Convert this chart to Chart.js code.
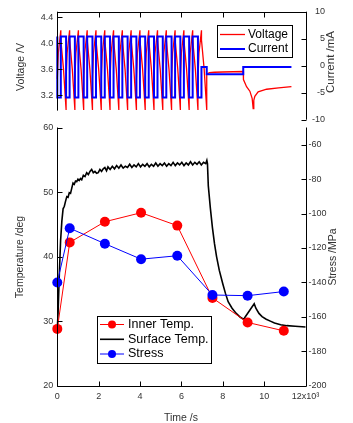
<!DOCTYPE html>
<html>
<head>
<meta charset="utf-8">
<script src="https://cdn.jsdelivr.net/npm/chart.js@4.4.1/dist/chart.umd.min.js"></script>
<style>
  html, body { margin: 0; padding: 0; background: #fff; }
  #wrap { position: relative; width: 353px; height: 423px; }
  #wrap canvas { position: absolute; left: 0; top: 0; }
</style>
</head>
<body>
<div id="wrap">
  <canvas id="cycle-chart" width="353" height="423"></canvas>
  <canvas id="temp-chart" width="353" height="423"></canvas>
</div>
<script>
// time is in 10^3 s on both panels

// ---- top panel: voltage / current cycling ----
const voltage = [
  [0.000,3.45],[0.050,3.85],[0.170,4.20],[0.171,4.05],[0.300,3.60],[0.424,2.98],
  [0.425,3.45],[0.475,3.85],[0.595,4.20],[0.596,4.05],[0.725,3.60],[0.849,2.98],
  [0.850,3.45],[0.900,3.85],[1.020,4.20],[1.021,4.05],[1.150,3.60],[1.274,2.98],
  [1.275,3.45],[1.325,3.85],[1.445,4.20],[1.446,4.05],[1.575,3.60],[1.699,2.98],
  [1.700,3.45],[1.750,3.85],[1.870,4.20],[1.871,4.05],[2.000,3.60],[2.124,2.98],
  [2.125,3.45],[2.175,3.85],[2.295,4.20],[2.296,4.05],[2.425,3.60],[2.549,2.98],
  [2.550,3.45],[2.600,3.85],[2.720,4.20],[2.721,4.05],[2.850,3.60],[2.974,2.98],
  [2.975,3.45],[3.025,3.85],[3.145,4.20],[3.146,4.05],[3.275,3.60],[3.399,2.98],
  [3.400,3.45],[3.450,3.85],[3.570,4.20],[3.571,4.05],[3.700,3.60],[3.824,2.98],
  [3.825,3.45],[3.875,3.85],[3.995,4.20],[3.996,4.05],[4.125,3.60],[4.249,2.98],
  [4.250,3.45],[4.300,3.85],[4.420,4.20],[4.421,4.05],[4.550,3.60],[4.674,2.98],
  [4.675,3.45],[4.725,3.85],[4.845,4.20],[4.846,4.05],[4.975,3.60],[5.099,2.98],
  [5.100,3.45],[5.150,3.85],[5.270,4.20],[5.271,4.05],[5.400,3.60],[5.524,2.98],
  [5.525,3.45],[5.575,3.85],[5.695,4.20],[5.696,4.05],[5.825,3.60],[5.949,2.98],
  [5.950,3.45],[6.000,3.85],[6.120,4.20],[6.121,4.05],[6.250,3.60],[6.374,2.98],
  [6.375,3.45],[6.425,3.85],[6.545,4.20],[6.546,4.05],[6.675,3.60],[6.799,2.98],
  [6.800,3.45],[6.850,3.85],[6.970,4.20],[6.971,4.05],[7.100,3.60],[7.224,2.98],
  [7.225,3.52],[7.350,3.545],[7.600,3.552],[8.000,3.556],[8.500,3.560],[8.990,3.563],
  [9.000,3.44],[9.150,3.33],[9.310,3.26],[9.420,3.15],[9.470,2.99],[9.500,3.12],
  [9.550,3.18],[9.710,3.25],[10.12,3.29],[10.70,3.31],[11.32,3.33]
];
// current switch points (stepped)
const current = [
  [0.000,5.4],[0.170,-5.9],[0.425,5.4],[0.595,-5.9],[0.850,5.4],[1.020,-5.9],
  [1.275,5.4],[1.445,-5.9],[1.700,5.4],[1.870,-5.9],[2.125,5.4],[2.295,-5.9],
  [2.550,5.4],[2.720,-5.9],[2.975,5.4],[3.145,-5.9],[3.400,5.4],[3.570,-5.9],
  [3.825,5.4],[3.995,-5.9],[4.250,5.4],[4.420,-5.9],[4.675,5.4],[4.845,-5.9],
  [5.100,5.4],[5.270,-5.9],[5.525,5.4],[5.695,-5.9],[5.950,5.4],[6.120,-5.9],
  [6.375,5.4],[6.545,-5.9],[6.800,5.4],[6.970,-5.9],
  [7.225,-0.25],[8.990,-1.6],[9.470,-0.25],[11.32,-0.25]
];
const voltTicks = [3.2, 3.6, 4.0, 4.4];
const currTicks = [-10, -5, 0, 5, 10];

// ---- bottom panel: temperatures / stress ----
const sampleTime = [0, 0.6, 2.3, 4.05, 5.8, 7.5, 9.2, 10.95];
const innerTemp = [28.8, 42.2, 45.4, 46.8, 44.8, 33.6, 29.8, 28.5];
const stress = [-140, -108.5, -117.5, -126.5, -124.5, -147.3, -147.7, -145.3];
const surfaceTemp = [
  [0,28.8],[0.04,31.5],[0.1,37.5],[0.16,42.5],[0.22,45.5],[0.28,47.4],[0.34,47.8],[0.4,48.6],
  [0.46,49.3],[0.52,49.2],[0.58,49.9],[0.64,49.8],[0.7,50.6],[0.76,51.4],[0.82,51.2],[0.88,51.7],
  [0.94,51.6],[1.0,52.0],[1.06,51.8],[1.12,52.1],[1.18,51.9],[1.26,52.6],[1.34,52.4],[1.42,53.0],
  [1.5,52.7],[1.58,53.2],[1.66,53.5],[1.74,53.0],[1.82,53.2],[1.9,52.9],[1.98,53.0],[2.06,53.5],
  [2.14,53.2],[2.22,53.6],[2.3,53.8],[2.38,53.3],
  [2.45,53.9],[2.555,53.5],[2.66,54.0],[2.765,53.6],[2.87,54.1],[2.975,53.7],[3.08,54.2],[3.185,53.7],
  [3.29,54.0],[3.395,53.8],[3.5,54.3],[3.605,53.8],[3.71,54.2],[3.815,53.9],[3.92,54.4],[4.025,53.9],
  [4.13,54.3],[4.235,54.0],[4.34,54.4],[4.445,53.9],[4.55,54.3],[4.655,54.0],[4.76,54.5],[4.865,54.0],
  [4.97,54.4],[5.075,54.1],[5.18,54.5],[5.285,54.0],[5.39,54.4],[5.495,54.1],[5.6,54.6],[5.705,54.1],
  [5.81,54.5],[5.915,54.2],[6.02,54.6],[6.125,54.1],[6.23,54.5],[6.335,54.2],[6.44,54.7],[6.545,54.2],
  [6.65,54.6],[6.755,54.3],[6.86,54.7],[6.965,54.2],[7.07,54.6],[7.175,54.4],[7.23,54.9],
  [7.26,54.4],[7.3,51.0],[7.4,47.5],[7.5,44.5],[7.6,42.0],[7.7,40.0],[7.83,37.9],[8.0,35.8],
  [8.13,34.3],[8.26,33.0],[8.45,32.0],[8.65,31.2],[8.85,30.6],[9.0,30.3],[9.05,30.5],[9.52,32.7],
  [9.6,32.0],[9.75,31.2],[9.9,30.7],[10.1,30.3],[10.3,30.0],[10.5,29.7],[10.8,29.45],[11.1,29.3],
  [11.5,29.2],[12.0,29.1]
];
const timeTicks = [0, 2, 4, 6, 8, 10, 12];
const timeLabels = ['0', '2', '4', '6', '8', '10', '12x10\u00b3'];
const tempTicks = [20, 30, 40, 50, 60];
const stressTicks = [-200, -180, -160, -140, -120, -100, -80, -60];

const FONT = "'Liberation Sans', Arial, sans-serif";
Chart.defaults.font.family = FONT;
Chart.defaults.color = '#333';
Chart.defaults.animation = false;

const pts = arr => arr.map(p => ({ x: p[0], y: p[1] }));
const pair = (xs, ys) => xs.map((x, i) => ({ x: x, y: ys[i] }));
const fixTicks = list => scale => { scale.ticks = list.map(v => ({ value: v })); };
const noGrid = { display: false, drawTicks: false };

// axis lines + inward tick marks + axis titles
const frame = {
  id: 'frame',
  afterDraw(chart, args, o) {
    const ctx = chart.ctx, a = chart.chartArea;
    ctx.save();
    ctx.strokeStyle = '#000';
    ctx.lineWidth = 1;
    ctx.beginPath();
    o.axes.forEach(ax => {
      const s = chart.scales[ax.id];
      const len = 5;
      if (s.isHorizontal()) {
        const y = Math.round(ax.side === 'top' ? a.top : a.bottom) + 0.5;
        const dir = ax.side === 'top' ? 1 : -1;
        ctx.moveTo(a.left, y); ctx.lineTo(a.right + 0.5, y);
        s.ticks.forEach(t => {
          const x = Math.round(s.getPixelForValue(t.value)) + 0.5;
          ctx.moveTo(x, y); ctx.lineTo(x, y + dir * len);
        });
      } else {
        const x = Math.round(ax.side === 'left' ? a.left : a.right) + 0.5;
        const dir = ax.side === 'left' ? 1 : -1;
        const y0 = s.getPixelForValue(ax.to !== undefined ? ax.to : s.max);
        const y1 = s.getPixelForValue(ax.from !== undefined ? ax.from : s.min);
        ctx.moveTo(x, y0); ctx.lineTo(x, y1);
        s.ticks.forEach(t => {
          const y = Math.round(s.getPixelForValue(t.value)) + 0.5;
          ctx.moveTo(x, y); ctx.lineTo(x + dir * len, y);
        });
      }
    });
    ctx.stroke();
    ctx.fillStyle = '#333';
    ctx.textAlign = 'center';
    ctx.textBaseline = 'middle';
    o.titles.forEach(t => {
      ctx.save();
      ctx.font = (t.size || 10.5) + 'px ' + FONT;
      ctx.translate(t.x, t.y);
      if (t.rot) ctx.rotate(-Math.PI / 2);
      ctx.fillText(t.text, 0, 0);
      ctx.restore();
    });
    ctx.restore();
  }
};

// boxed legend built from the datasets
const boxLegend = {
  id: 'boxLegend',
  afterDraw(chart, args, o) {
    const ctx = chart.ctx;
    ctx.save();
    ctx.fillStyle = '#fff';
    ctx.fillRect(o.x, o.y, o.w, o.h);
    ctx.strokeStyle = '#000';
    ctx.lineWidth = 1;
    ctx.strokeRect(o.x + 0.5, o.y + 0.5, o.w, o.h);
    ctx.font = o.font;
    ctx.textBaseline = 'middle';
    ctx.textAlign = 'left';
    chart.data.datasets.forEach((ds, i) => {
      const y = o.rows[i];
      ctx.strokeStyle = ds.borderColor;
      ctx.lineWidth = ds.borderWidth;
      ctx.beginPath();
      ctx.moveTo(o.lineX0, y); ctx.lineTo(o.lineX1, y);
      ctx.stroke();
      if (ds.pointRadius > 0) {
        ctx.fillStyle = ds.pointBackgroundColor;
        ctx.beginPath();
        ctx.arc((o.lineX0 + o.lineX1) / 2, y, o.dot, 0, Math.PI * 2);
        ctx.fill();
      }
      ctx.fillStyle = '#000';
      ctx.fillText(ds.label, o.textX, y);
    });
    ctx.restore();
  }
};

const tickFont = { size: 9 };
const LEFT_W = 57.3;
const PLOT_RIGHT = 305.5;

// ---- top chart ----
// right labels are right-aligned at x=325, so the scale box ends there
new Chart(document.getElementById('cycle-chart'), {
  type: 'line',
  data: {
    datasets: [
      { label: 'Voltage', data: pts(voltage), yAxisID: 'yV', borderColor: '#ff0000',
        borderWidth: 1.3, pointRadius: 0, order: 2, clip: false },
      { label: 'Current', data: pts(current), yAxisID: 'yI', borderColor: '#0000ff',
        borderWidth: 2, pointRadius: 0, stepped: 'after', order: 1, clip: false }
    ]
  },
  options: {
    responsive: false,
    events: [],
    layout: { padding: { left: 0, right: 353 - 325, top: 0, bottom: 423 - 119.7 } },
    plugins: {
      legend: { display: false },
      tooltip: { enabled: false },
      frame: {
        axes: [
          { id: 'x', side: 'top' },
          { id: 'yV', side: 'left', from: 2.96 },
          { id: 'yI', side: 'right' }
        ],
        titles: [
          { text: 'Voltage /V', x: 21, y: 67, rot: true },
          { text: 'Current /mA', x: 331, y: 62, rot: true, size: 11.5 }
        ]
      },
      boxLegend: {
        x: 217, y: 25, w: 75, h: 32, rows: [34.5, 49], lineX0: 220, lineX1: 245,
        textX: 248, font: '12px ' + FONT, dot: 0
      }
    },
    scales: {
      x: {
        type: 'linear', position: 'top', min: 0, max: 12,
        afterBuildTicks: fixTicks(timeTicks),
        ticks: { display: false },
        grid: noGrid, border: { display: false },
        afterFit: s => { s.height = 11.7; }
      },
      yV: {
        type: 'linear', position: 'left', min: 2.82, max: 4.486,
        afterBuildTicks: fixTicks(voltTicks),
        ticks: { font: tickFont, padding: 4, callback: v => v.toFixed(1) },
        grid: noGrid, border: { display: false },
        afterFit: s => { s.width = LEFT_W; }
      },
      yI: {
        type: 'linear', position: 'right', min: -10, max: 10,
        afterBuildTicks: fixTicks(currTicks),
        ticks: { font: tickFont, padding: 6, crossAlign: 'far' },
        grid: noGrid, border: { display: false },
        afterFit: s => { s.width = 325 - PLOT_RIGHT; }
      }
    }
  },
  plugins: [frame, boxLegend]
});

// ---- bottom chart ----
new Chart(document.getElementById('temp-chart'), {
  type: 'line',
  data: {
    datasets: [
      { label: 'Inner Temp.', data: pair(sampleTime, innerTemp), yAxisID: 'yT',
        borderColor: '#ff0000', borderWidth: 1, pointRadius: 5,
        pointBackgroundColor: '#ff0000', pointBorderWidth: 0, order: 2, clip: false },
      { label: 'Surface Temp.', data: pts(surfaceTemp), yAxisID: 'yT',
        borderColor: '#000000', borderWidth: 1.6, pointRadius: 0, order: 3, clip: false },
      { label: 'Stress', data: pair(sampleTime, stress), yAxisID: 'yS',
        borderColor: '#0000ff', borderWidth: 1, pointRadius: 5,
        pointBackgroundColor: '#0000ff', pointBorderWidth: 0, order: 1, clip: false }
    ]
  },
  options: {
    responsive: false,
    events: [],
    layout: { padding: { left: 0, right: 0, top: 127.5, bottom: 0 } },
    plugins: {
      legend: { display: false },
      tooltip: { enabled: false },
      frame: {
        axes: [
          { id: 'x', side: 'bottom' },
          { id: 'yT', side: 'left' },
          { id: 'yS', side: 'right' }
        ],
        titles: [
          { text: 'Temperature /deg', x: 20, y: 257, rot: true },
          { text: 'Stress /MPa', x: 333, y: 257, rot: true },
          { text: 'Time /s', x: 181, y: 418 }
        ]
      },
      boxLegend: {
        x: 97, y: 316, w: 114, h: 47, rows: [324.5, 339.3, 354], lineX0: 100, lineX1: 124,
        textX: 128, font: '12.5px ' + FONT, dot: 4
      }
    },
    scales: {
      x: {
        type: 'linear', position: 'bottom', min: 0, max: 12,
        afterBuildTicks: fixTicks(timeTicks),
        ticks: { font: tickFont, padding: 5, maxRotation: 0, autoSkip: false,
                 callback: (v, i) => timeLabels[i] },
        grid: noGrid, border: { display: false },
        afterFit: s => { s.height = 423 - 385.7; }
      },
      yT: {
        type: 'linear', position: 'left', min: 20, max: 60,
        afterBuildTicks: fixTicks(tempTicks),
        ticks: { font: tickFont, padding: 4 },
        grid: noGrid, border: { display: false },
        afterFit: s => { s.width = LEFT_W; }
      },
      yS: {
        type: 'linear', position: 'right', min: -200, max: -50,
        afterBuildTicks: fixTicks(stressTicks),
        ticks: { font: tickFont, padding: 3, crossAlign: 'near' },
        grid: noGrid, border: { display: false },
        afterFit: s => { s.width = 353 - PLOT_RIGHT; }
      }
    }
  },
  plugins: [frame, boxLegend]
});
</script>
</body>
</html>
